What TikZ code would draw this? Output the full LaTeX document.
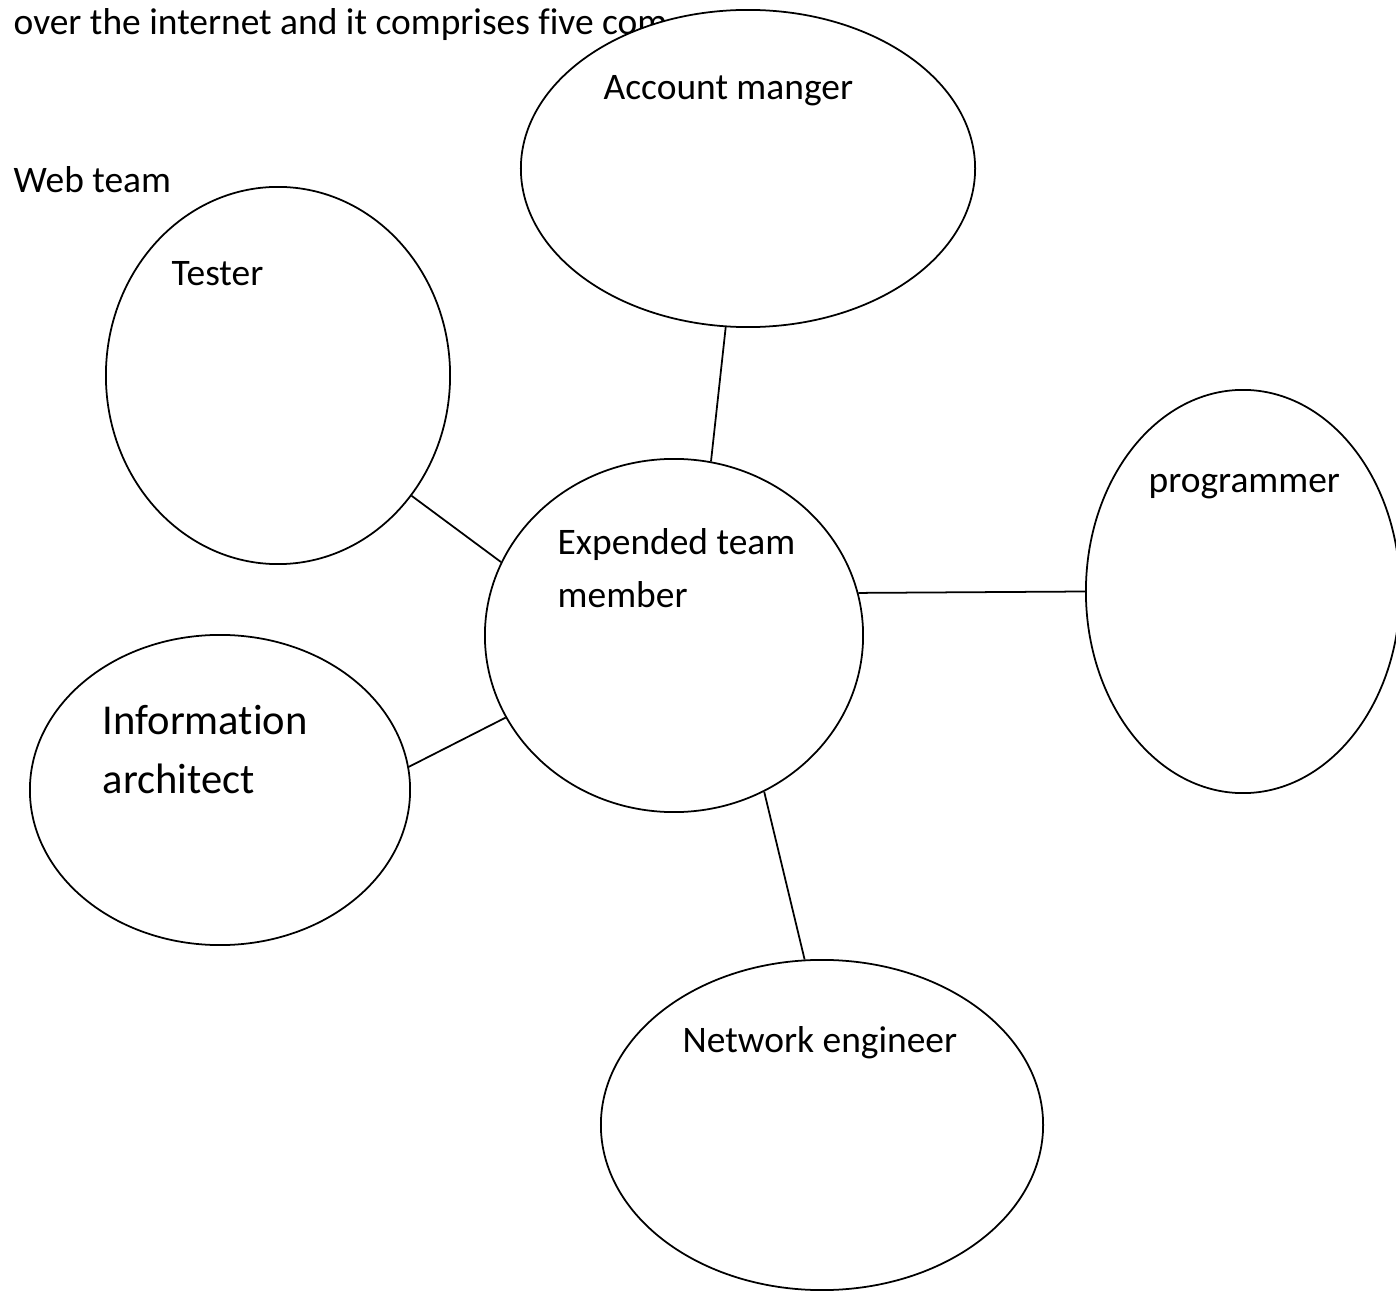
\documentclass[tikz,border=0pt]{standalone}
\usepackage{fontspec}
\setmainfont{Carlito}[Ligatures=NoCommon]
\usetikzlibrary{shapes.geometric}
\newcommand{\lblsize}{\fontsize{10.65}{14.8}\selectfont}
\newcommand{\biglblsize}{\fontsize{12.1}{16.8}\selectfont}
\tikzset{
    member/.style={ellipse, draw, fill=white, inner sep=0pt, line width=0.5pt},
    lbl/.style={anchor=base west, inner sep=0pt, align=left, font=\lblsize},
    link/.style={line width=0.5pt}
}

\begin{document}
\begin{tikzpicture}[x=0.01cm,y=-0.01cm]
    \useasboundingbox (0,0) rectangle (1396,1291);
    \node[lbl] (intro) at (13,35) {over the internet and it comprises five com};
    \node[lbl] (webteam) at (13,193) {Web team};
    % team members
    \node[member, minimum width=4.54cm, minimum height=3.17cm] (acct) at (748,168.5) {};
    \node[member, minimum width=3.44cm, minimum height=3.77cm] (tester) at (278,375.5) {};
    \node[member, minimum width=3.78cm, minimum height=3.53cm] (expd) at (674,635.5) {};
    \node[member, minimum width=3.14cm, minimum height=4.03cm] (prog) at (1243,591.5) {};
    \node[member, minimum width=3.80cm, minimum height=3.10cm] (infoarch) at (220,790) {};
    \node[member, minimum width=4.42cm, minimum height=3.30cm] (neteng) at (822,1125) {};
    \node[lbl] (acctlbl) at (603,100) {Account manger};
    \node[lbl] (testerlbl) at (171,286) {Tester};
    \node[lbl] (expdlbl) at (557,607) {Expended team\\member};
    \node[lbl] (proglbl) at (1148,492) {programmer};
    \node[lbl, font=\biglblsize] (infolbl) at (102,794) {Information\\architect};
    \node[lbl] (netlbl) at (682,1052) {Network engineer};
    % links to the centre
    \draw[link] (acct.-98.9) -- (expd.78.2);
    \draw[link] (tester.-42.9) -- (expd.157.1);
    \draw[link] (expd.13.6) -- (prog.180.5);
    \draw[link] (infoarch.7.5) -- (expd.-154.5);
    \draw[link] (expd.-60.6) -- (neteng.96.9);
\end{tikzpicture}
\end{document}
